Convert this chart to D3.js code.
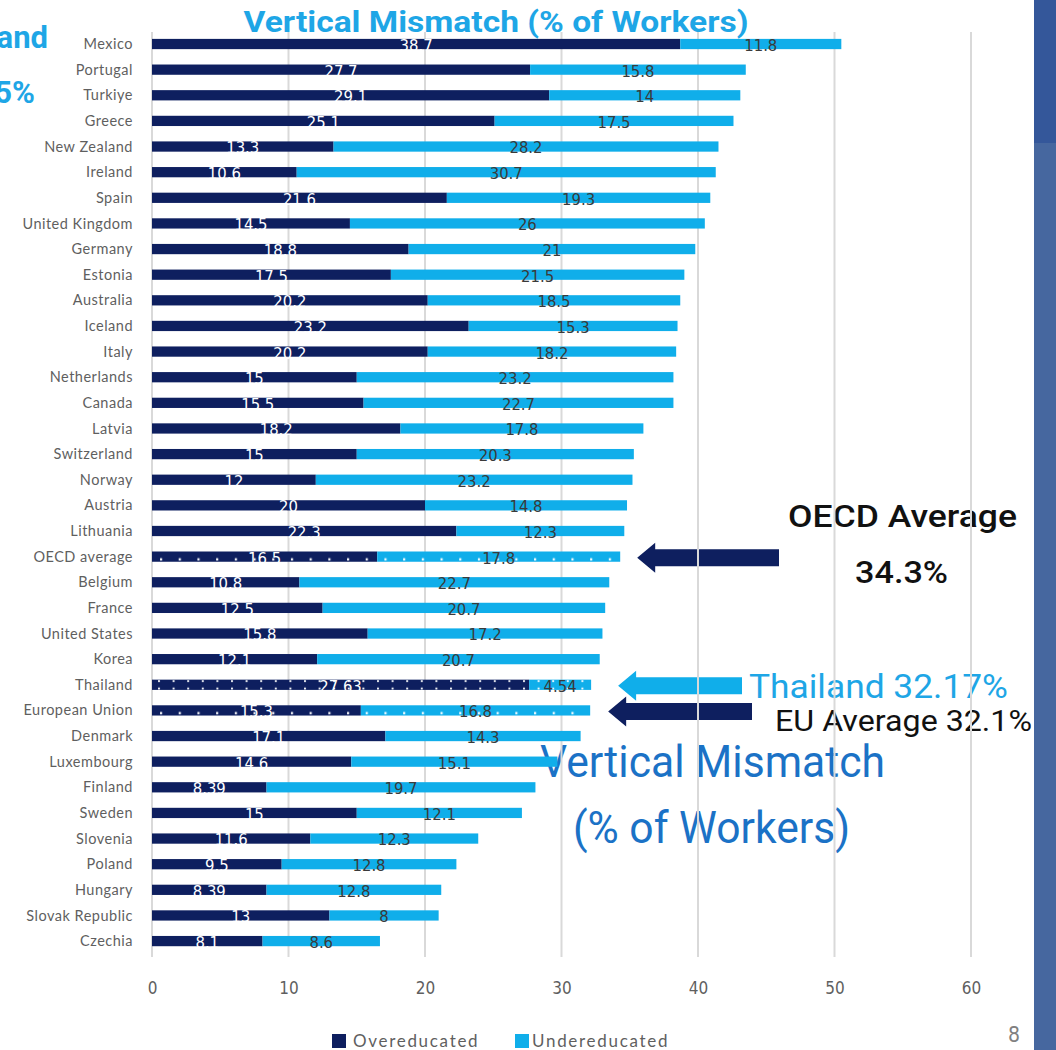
<!DOCTYPE html>
<html>
<head>
<meta charset="utf-8">
<script src="https://cdn.jsdelivr.net/npm/d3@7"></script>
<style>
  html, body { margin: 0; padding: 0; background: #ffffff; }
  svg { display: block; }
</style>
</head>
<body>
<svg id="chart" width="1056" height="1050"></svg>
<script>
// Countries, top to bottom
const countries = [
  "Mexico", "Portugal", "Turkiye", "Greece", "New Zealand", "Ireland", "Spain",
  "United Kingdom", "Germany", "Estonia", "Australia", "Iceland", "Italy",
  "Netherlands", "Canada", "Latvia", "Switzerland", "Norway", "Austria",
  "Lithuania", "OECD average", "Belgium", "France", "United States", "Korea",
  "Thailand", "European Union", "Denmark", "Luxembourg", "Finland", "Sweden",
  "Slovenia", "Poland", "Hungary", "Slovak Republic", "Czechia"
];
// Share of workers overeducated (%)
const overeducated = [
  38.7, 27.7, 29.1, 25.1, 13.3, 10.6, 21.6, 14.5, 18.8, 17.5, 20.2, 23.2, 20.2,
  15, 15.5, 18.2, 15, 12, 20, 22.3, 16.5, 10.8, 12.5, 15.8, 12.1, 27.63, 15.3,
  17.1, 14.6, 8.39, 15, 11.6, 9.5, 8.39, 13, 8.1
];
// Share of workers undereducated (%)
const undereducated = [
  11.8, 15.8, 14, 17.5, 28.2, 30.7, 19.3, 26, 21, 21.5, 18.5, 15.3, 18.2,
  23.2, 22.7, 17.8, 20.3, 23.2, 14.8, 12.3, 17.8, 22.7, 20.7, 17.2, 20.7, 4.54, 16.8,
  14.3, 15.1, 19.7, 12.1, 12.3, 12.8, 12.8, 8, 8.6
];
const xTicks = [0, 10, 20, 30, 40, 50, 60];
const seriesNames = ["Overeducated", "Undereducated"];
// Rows drawn with a dotted overlay
const dottedAverages = ["OECD average", "European Union"];
const dottedHighlight = ["Thailand"];
// Callouts: row, stated total
const callouts = [
  { row: "OECD average", total: 34.3 },
  { row: "Thailand", total: 32.17 },
  { row: "European Union", total: 32.1 }
];

const NAVY = "#0e1f5f";
const CYAN = "#10aeea";
const GRID = "#d9d9d9";
const LABEL = "#5f5f5f";
const COND = "'DejaVu Sans Condensed', 'DejaVu Sans', sans-serif";

const rows = countries.map((c, i) => ({
  country: c, over: overeducated[i], under: undereducated[i]
}));

const svg = d3.select("#chart");
const x = d3.scaleLinear().domain([0, 60]).range([152, 971]);
const y = d3.scaleBand().domain(countries).range([31.2, 953.9])
  .paddingInner(0.6).paddingOuter(0.3);
const color = d3.scaleOrdinal().domain(seriesNames).range([NAVY, CYAN]);
const yMid = c => y(c) + y.bandwidth() / 2;

// Slide frame strip on the right edge
svg.append("rect").attr("x", 1034).attr("y", 0).attr("width", 22).attr("height", 143).attr("fill", "#34579a");
svg.append("rect").attr("x", 1034).attr("y", 143).attr("width", 22).attr("height", 907).attr("fill", "#46679f");

// ---- Annotation layer (sits under gridlines and bars) ----
const ann = svg.append("g");

ann.append("text").attr("x", 496).attr("y", 32).attr("text-anchor", "middle")
  .attr("font-family", "Roboto, sans-serif").attr("font-weight", 700).attr("font-size", 29)
  .attr("fill", "#1ea6e6").attr("textLength", 505).attr("lengthAdjust", "spacingAndGlyphs")
  .text("Vertical Mismatch (% of Workers)");

ann.append("text").attr("x", 48).attr("y", 48).attr("text-anchor", "end")
  .attr("font-family", "Roboto, sans-serif").attr("font-weight", 700).attr("font-size", 31)
  .attr("fill", "#1ea6e6").text("and");
ann.append("text").attr("x", 35).attr("y", 103).attr("text-anchor", "end")
  .attr("font-family", "Roboto, sans-serif").attr("font-weight", 700).attr("font-size", 31)
  .attr("fill", "#1ea6e6").text("5%");

// Arrows pointing at the average rows
const arrowSpec = {
  "OECD average": { gap: 17, tail: 779, fill: NAVY },
  "Thailand": { gap: 27, tail: 742, fill: CYAN },
  "European Union": { gap: 18, tail: 752, fill: NAVY }
};
callouts.forEach(c => {
  const s = arrowSpec[c.row];
  const tip = x(c.total) + s.gap;
  const cy = yMid(c.row) + 1;
  const headLen = 18, headHalf = 15, shaftHalf = 8.5;
  const p = d3.path();
  p.moveTo(tip, cy);
  p.lineTo(tip + headLen, cy - headHalf);
  p.lineTo(tip + headLen, cy - shaftHalf);
  p.lineTo(s.tail, cy - shaftHalf);
  p.lineTo(s.tail, cy + shaftHalf);
  p.lineTo(tip + headLen, cy + shaftHalf);
  p.lineTo(tip + headLen, cy + headHalf);
  p.closePath();
  ann.append("path").attr("d", p.toString()).attr("fill", s.fill);
});

const annText = (txt, xx, yy, size, w, fill, weight) =>
  ann.append("text").attr("x", xx).attr("y", yy)
    .attr("font-family", "Roboto, sans-serif").attr("font-weight", weight)
    .attr("font-size", size).attr("fill", fill)
    .attr("textLength", w).attr("lengthAdjust", "spacingAndGlyphs").text(txt);

annText("OECD Average", 788, 527, 32, 229, "#111111", 500);
annText("34.3%", 855, 583, 32, 93, "#111111", 500);
annText("Thailand 32.17%", 749, 698, 34, 259, "#1ea6e6", 400);
annText("EU Average 32.1%", 775, 731, 30, 257, "#111111", 400);
annText("Vertical Mismatch", 540, 777, 44, 345, "#1b72c6", 400);
annText("(% of Workers)", 573, 843, 44, 277, "#1b72c6", 400);

// ---- Gridlines ----
const grid = svg.append("g");
grid.selectAll("line").data(xTicks).join("line")
  .attr("x1", d => x(d)).attr("x2", d => x(d))
  .attr("y1", 32).attr("y2", 957)
  .attr("stroke", GRID).attr("stroke-width", 2);

// Tick labels via d3 axis
const axis = svg.append("g").attr("transform", "translate(0,981)")
  .call(d3.axisBottom(x).tickValues(xTicks).tickSize(0).tickPadding(0));
axis.select(".domain").remove();
axis.selectAll("text").attr("font-family", COND).attr("font-size", 17)
  .attr("fill", LABEL).attr("dy", "0.75em");

// Category labels
svg.append("g").selectAll("text").data(countries).join("text")
  .attr("x", 133).attr("y", d => yMid(d)).attr("dy", "0.35em")
  .attr("text-anchor", "end").attr("font-family", "Lato, 'Open Sans', sans-serif")
  .attr("font-size", 14.5).attr("letter-spacing", 0.5).attr("fill", LABEL)
  .text(d => d);

// ---- Dot patterns ----
const defs = svg.append("defs");
const step = y.step();
const dotA = defs.append("pattern").attr("id", "dotsAvg")
  .attr("patternUnits", "userSpaceOnUse")
  .attr("x", 161 - 1).attr("y", y.range()[0])
  .attr("width", 18.7).attr("height", step);
dotA.append("rect").attr("x", 0).attr("y", step / 2 + 1.6).attr("width", 2.2).attr("height", 2.2).attr("fill", "#ffffff");

const dotT = defs.append("pattern").attr("id", "dotsThai")
  .attr("patternUnits", "userSpaceOnUse")
  .attr("x", 158).attr("y", y.range()[0])
  .attr("width", 14.6).attr("height", step);
dotT.append("rect").attr("x", 0).attr("y", step / 2 - y.bandwidth() / 2 + 0.5).attr("width", 2).attr("height", 1.8).attr("fill", "#ffffff");
dotT.append("rect").attr("x", 0).attr("y", step / 2 + y.bandwidth() / 2 - 2.3).attr("width", 2).attr("height", 1.8).attr("fill", "#ffffff");

// ---- Stacked bars ----
const stacked = d3.stack().keys(["over", "under"])(rows);
const bars = svg.append("g");
stacked.forEach((layer, li) => {
  bars.append("g").attr("fill", color(seriesNames[li]))
    .selectAll("rect").data(layer).join("rect")
    .attr("x", d => x(d[0])).attr("width", d => x(d[1]) - x(d[0]))
    .attr("y", d => y(d.data.country)).attr("height", y.bandwidth());
});

// Dotted overlays on highlighted rows
const dotted = rows.filter(r => dottedAverages.includes(r.country) || dottedHighlight.includes(r.country));
bars.append("g").selectAll("rect").data(dotted).join("rect")
  .attr("x", x(0))
  .attr("width", d => x(d.over + d.under) - x(0) - 2)
  .attr("y", d => y(d.country)).attr("height", y.bandwidth())
  .attr("fill", d => dottedHighlight.includes(d.country) ? "url(#dotsThai)" : "url(#dotsAvg)");

// Value labels
const vl = svg.append("g").attr("font-family", COND).attr("font-size", 16.5);
vl.selectAll("text.over").data(rows).join("text").attr("class", "over")
  .attr("x", d => x(d.over / 2)).attr("y", d => yMid(d.country)).attr("dy", "0.42em")
  .attr("text-anchor", "middle").attr("fill", "#ffffff")
  .text(d => d.over);
vl.selectAll("text.under").data(rows).join("text").attr("class", "under")
  .attr("x", d => x(d.over + d.under / 2)).attr("y", d => yMid(d.country)).attr("dy", "0.42em")
  .attr("text-anchor", "middle").attr("fill", "#3a3a3a")
  .text(d => d.under);

// Legend
const legend = svg.append("g");
const legendItems = [
  { name: seriesNames[0], sx: 332, tx: 353 },
  { name: seriesNames[1], sx: 515, tx: 532 }
];
legendItems.forEach(it => {
  legend.append("rect").attr("x", it.sx).attr("y", 1034).attr("width", 14).attr("height", 14)
    .attr("fill", color(it.name));
  legend.append("text").attr("x", it.tx).attr("y", 1047)
    .attr("font-family", "Lato, 'Open Sans', sans-serif").attr("font-size", 17)
    .attr("letter-spacing", 1.7).attr("fill", LABEL).text(it.name);
});

// Slide number
svg.append("text").attr("x", 1020).attr("y", 1042).attr("text-anchor", "end")
  .attr("font-family", COND).attr("font-size", 21).attr("fill", "#808080").text("8");
</script>
</body>
</html>
